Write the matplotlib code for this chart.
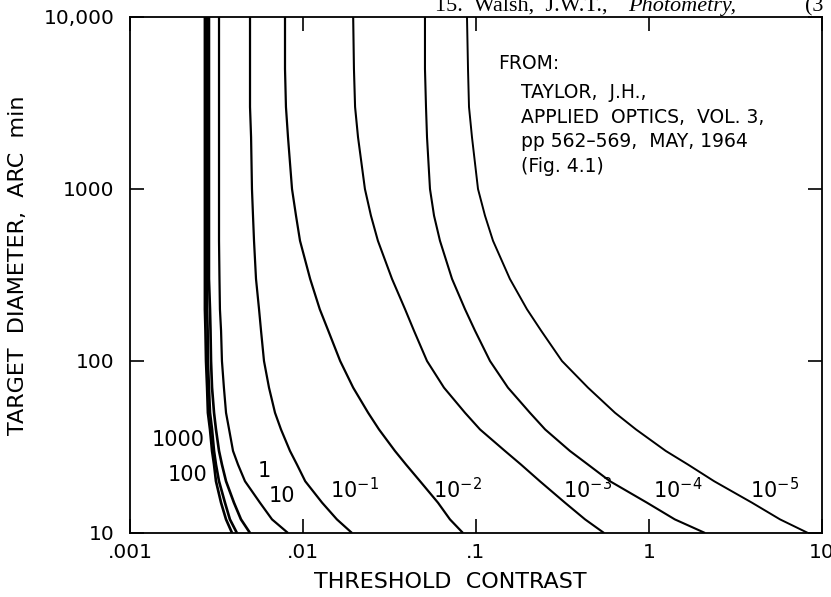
import matplotlib.pyplot as plt

# target diameter (arc min) at which each curve was read
diameter = [10000, 5000, 3000, 2000, 1000, 700, 500, 300, 200, 150,
            100, 70, 50, 40, 30, 25, 20, 15, 12, 10]

# threshold contrast, one list per background luminance
c_1000 = [2.71e-3, 2.71e-3, 2.71e-3, 2.71e-3, 2.71e-3, 2.71e-3, 2.71e-3, 2.71e-3, 2.71e-3, 2.73e-3,
          2.75e-3, 2.79e-3, 2.82e-3, 2.90e-3, 2.98e-3, 3.06e-3, 3.14e-3, 3.36e-3, 3.59e-3, 3.89e-3]
c_100 = [2.79e-3, 2.79e-3, 2.79e-3, 2.79e-3, 2.79e-3, 2.79e-3, 2.79e-3, 2.79e-3, 2.79e-3, 2.81e-3,
         2.82e-3, 2.86e-3, 2.90e-3, 2.98e-3, 3.06e-3, 3.14e-3, 3.27e-3, 3.54e-3, 3.78e-3, 4.15e-3]
c_10 = [2.86e-3, 2.86e-3, 2.86e-3, 2.86e-3, 2.86e-3, 2.86e-3, 2.86e-3, 2.86e-3, 2.90e-3, 2.92e-3,
        2.94e-3, 2.98e-3, 3.06e-3, 3.14e-3, 3.27e-3, 3.40e-3, 3.59e-3, 3.99e-3, 4.38e-3, 4.94e-3]
c_1 = [3.27e-3, 3.27e-3, 3.27e-3, 3.27e-3, 3.27e-3, 3.27e-3, 3.27e-3, 3.29e-3, 3.31e-3, 3.36e-3,
       3.40e-3, 3.49e-3, 3.59e-3, 3.74e-3, 3.94e-3, 4.21e-3, 4.62e-3, 5.64e-3, 6.62e-3, 8.19e-3]
c_em1 = [4.94e-3, 4.94e-3, 4.94e-3, 5.01e-3, 5.07e-3, 5.14e-3, 5.21e-3, 5.35e-3, 5.57e-3, 5.72e-3,
         5.95e-3, 6.36e-3, 6.89e-3, 7.46e-3, 8.41e-3, 9.23e-3, 1.03e-2, 1.29e-2, 1.57e-2, 1.92e-2]
c_em2 = [7.87e-3, 7.87e-3, 7.97e-3, 8.19e-3, 8.64e-3, 9.11e-3, 9.61e-3, 1.10e-2, 1.25e-2, 1.40e-2,
         1.64e-2, 1.95e-2, 2.38e-2, 2.75e-2, 3.40e-2, 3.94e-2, 4.75e-2, 6.03e-2, 7.07e-2, 8.41e-2]
c_em3 = [1.95e-2, 1.97e-2, 2.00e-2, 2.08e-2, 2.28e-2, 2.47e-2, 2.71e-2, 3.27e-2, 3.89e-2, 4.38e-2,
         5.21e-2, 6.53e-2, 8.64e-2, 0.1055, 0.147, 0.182, 0.234, 0.327, 0.427, 0.550]
c_em4 = [5.07e-2, 5.07e-2, 5.14e-2, 5.21e-2, 5.42e-2, 5.72e-2, 6.19e-2, 7.27e-2, 8.64e-2, 9.87e-2,
         0.1205, 0.153, 0.205, 0.251, 0.349, 0.444, 0.595, 0.974, 1.41, 2.11]
c_em5 = [8.87e-2, 8.99e-2, 9.11e-2, 9.48e-2, 0.1027, 0.1127, 0.1254, 0.157, 0.197, 0.238,
         0.314, 0.444, 0.636, 0.841, 1.25, 1.68, 2.38, 3.94, 5.72, 8.30]

curves = [c_1000, c_100, c_10, c_1, c_em1, c_em2, c_em3, c_em4, c_em5]
widths = [1.9, 1.9, 1.9, 1.6, 1.6, 1.6, 1.5, 1.5, 1.4]

# curve labels and where they sit (contrast, diameter)
labels = ['1000', '100', '1', '10', r'10$^{-1}$', r'10$^{-2}$', r'10$^{-3}$', r'10$^{-4}$', r'10$^{-5}$']
label_x = [0.00271, 0.00282, 0.00595, 0.00756, 0.01434, 0.0564, 0.318, 1.055, 3.84]
label_y = [34.7, 21.7, 22.9, 16.4, 17.8, 17.8, 17.8, 17.8, 17.8]
label_ha = ['right', 'right', 'center', 'center', 'left', 'left', 'left', 'left', 'left']

x_ticks = [0.001, 0.01, 0.1, 1, 10]
x_ticklabels = ['.001', '.01', '.1', '1', '10']
y_ticks = [10, 100, 1000, 10000]
y_ticklabels = ['10', '100', '1000', '10,000']

source = ['FROM:', 'TAYLOR,  J.H.,', 'APPLIED  OPTICS,  VOL. 3,',
          'pp 562\u2013569,  MAY, 1964', '(Fig. 4.1)']

plt.rcParams['font.family'] = ['DejaVu Sans']

fig = plt.figure(figsize=(8.31, 5.97), dpi=100)
ax = fig.add_axes([130 / 831, 64 / 597, 692 / 831, 516 / 597])

for c, w in zip(curves, widths):
    ax.plot(c, diameter, color='black', lw=w, solid_joinstyle='round', solid_capstyle='butt')

ax.set_xscale('log')
ax.set_yscale('log')
ax.set_xlim(0.001, 10)
ax.set_ylim(10, 10000)
ax.set_xticks(x_ticks)
ax.set_xticklabels(x_ticklabels)
ax.set_yticks(y_ticks)
ax.set_yticklabels(y_ticklabels)
ax.minorticks_off()
ax.tick_params(direction='in', length=10, width=1.2, top=True, right=True, labelsize=14.5)
ax.tick_params(axis='x', pad=7)
ax.tick_params(axis='y', pad=11)
for s in ax.spines.values():
    s.set_linewidth(1.3)

for t, x, y, ha in zip(labels, label_x, label_y, label_ha):
    ax.text(x, y, t, ha=ha, va='center', fontsize=15)

ax.set_xlabel('THRESHOLD  CONTRAST', fontsize=16)
ax.xaxis.set_label_coords((450 - 130) / 692, -(572 - 533) / 516)
ax.set_ylabel('TARGET  DIAMETER,  ARC  min', fontsize=16)
ax.yaxis.set_label_coords(-(130 - 28) / 692, (533 - 265) / 516)

# source note, upper right
ax.text(0.532, 0.909, source[0], transform=ax.transAxes, fontsize=13.5, va='center')
for i, line in enumerate(source[1:]):
    ax.text(0.565, 0.853 - i * 0.0475, line, transform=ax.transAxes, fontsize=13.5, va='center')

# running header of the page, cut at the top edge
fig.text(435 / 831, 1 - 11 / 597, '15.  Walsh,  J.W.T.,', family='Liberation Serif', fontsize=16)
fig.text(628 / 831, 1 - 11 / 597, 'Photometry,', family='Liberation Serif', style='italic', fontsize=16)
fig.text(805 / 831, 1 - 11 / 597, '(3', family='Liberation Serif', fontsize=16)

fig.savefig('out.png', dpi=100)
